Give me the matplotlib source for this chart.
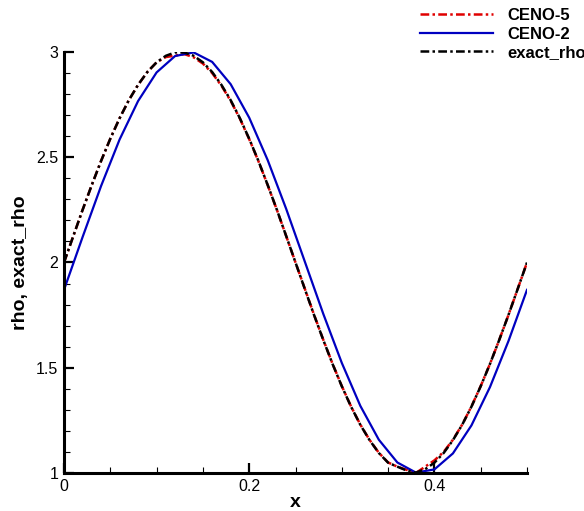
import numpy as np
import matplotlib
matplotlib.use("Agg")
import matplotlib.pyplot as plt
from matplotlib.ticker import MultipleLocator

# 数据：近似值
x_fine = np.round(np.arange(51) * 0.01, 2)
x_coarse = np.round(np.arange(26) * 0.02, 2)

exact_rho = [
    2.000, 2.125, 2.249, 2.368, 2.482, 2.588, 2.685, 2.771, 2.844, 2.905,
    2.951, 2.982, 2.998, 2.998, 2.982, 2.951, 2.905, 2.844, 2.771, 2.685,
    2.588, 2.482, 2.368, 2.249, 2.125, 2.000, 1.875, 1.751, 1.632, 1.518,
    1.412, 1.315, 1.229, 1.156, 1.095, 1.049, 1.030, 1.012, 1.002, 1.018,
    1.049, 1.095, 1.156, 1.229, 1.315, 1.412, 1.518, 1.632, 1.751, 1.875,
    2.000,
]

ceno5 = [
    2.000, 2.125, 2.249, 2.368, 2.482, 2.588, 2.685, 2.771, 2.844, 2.905,
    2.951, 2.976, 2.983, 2.990, 2.975, 2.945, 2.900, 2.840, 2.768, 2.683,
    2.586, 2.481, 2.367, 2.249, 2.125, 2.000, 1.876, 1.752, 1.633, 1.519,
    1.413, 1.316, 1.230, 1.157, 1.096, 1.050, 1.030, 1.015, 1.000, 1.030,
    1.060, 1.100, 1.158, 1.230, 1.316, 1.413, 1.518, 1.632, 1.751, 1.875,
    2.000,
]

ceno2 = [
    1.870, 2.120, 2.363, 2.584, 2.767, 2.903, 2.981, 2.998, 2.953, 2.847,
    2.688, 2.486, 2.254, 2.005, 1.756, 1.523, 1.319, 1.158, 1.050, 1.002,
    1.017, 1.093, 1.226, 1.408, 1.627, 1.870,
]

plt.rcParams["font.family"] = ["Liberation Sans", "DejaVu Sans"]

fig = plt.figure(figsize=(5.84, 5.11), dpi=100)
ax = fig.add_axes([64 / 584, 38 / 511, 463 / 584, 421 / 511])

(l5,) = ax.plot(x_fine, ceno5, color="#e00000", linewidth=1.8, label="CENO-5")
l5.set_dashes((3.5, 1.3, 1.0, 1.3))
(l2,) = ax.plot(x_coarse, ceno2, color="#0000c0", linewidth=1.6, label="CENO-2")
(le,) = ax.plot(x_fine, exact_rho, color="black", linewidth=1.8, label="exact_rho")
le.set_dashes((3.5, 1.3, 1.0, 1.3))

ax.set_xlim(0, 0.5)
ax.set_ylim(1, 3)
ax.xaxis.set_minor_locator(MultipleLocator(0.05))
ax.yaxis.set_minor_locator(MultipleLocator(0.1))
ax.set_xticks([0, 0.2, 0.4])
ax.set_xticklabels(["0", "0.2", "0.4"])
ax.set_yticks([1, 1.5, 2, 2.5, 3])
ax.set_yticklabels(["1", "1.5", "2", "2.5", "3"])

for side in ("top", "right"):
    ax.spines[side].set_visible(False)
for side in ("left", "bottom"):
    ax.spines[side].set_linewidth(2.2)

ax.tick_params(which="major", direction="in", length=7, width=1.6,
               labelsize=11.5, pad=4)
ax.tick_params(which="minor", direction="in", length=4.5, width=0.8)

ax.set_xlabel("x", fontsize=14, fontweight="bold", labelpad=0)
ax.set_ylabel("rho, exact_rho", fontsize=14, fontweight="bold", labelpad=5)

fig.legend(
    handles=[l5, l2, le],
    loc="upper left",
    bbox_to_anchor=(420 / 584, 1 - 8 / 511),
    frameon=False,
    prop={"size": 12, "weight": "bold"},
    borderpad=0,
    borderaxespad=0,
    handlelength=4.4,
    handletextpad=0.85,
    labelspacing=0.22,
)

fig.savefig("out.png", dpi=100)
